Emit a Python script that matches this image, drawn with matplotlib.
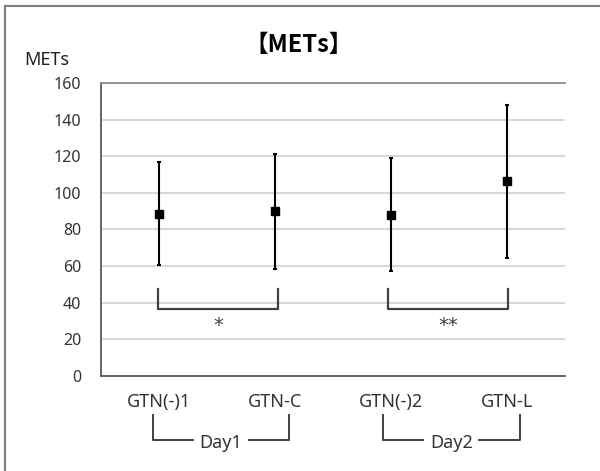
import numpy as np
import matplotlib
matplotlib.use('Agg')
from matplotlib import pyplot as plt
from matplotlib.lines import Line2D
import matplotlib.transforms as mtransforms

plt.rcParams['font.family'] = ['Noto Sans', 'DejaVu Sans']

# data
groups = ['GTN(-)1', 'GTN-C', 'GTN(-)2', 'GTN-L']
means = [88.6, 90.0, 88.1, 106.3]
sds = [28.1, 31.3, 30.8, 41.6]
days = ['Day1', 'Day2']
stars = ['*', '**']
yticks = [0, 20, 40, 60, 80, 100, 120, 140, 160]

txt = '#333333'
x = np.arange(1, len(groups) + 1)

fig = plt.figure(figsize=(6, 4.71), dpi=100)
ax = fig.add_axes([0.168, 0.2017, 0.774, 0.6221])

ax.errorbar(x, means, yerr=sds, fmt='s', color='black', ms=6,
            ecolor='black', elinewidth=1.5, capsize=1.5, capthick=1.5, zorder=3)

ax.set_xlim(0.5, 4.5)
ax.set_ylim(0, 160)
ax.set_yticks(yticks)
ax.set_xticks(x)
ax.set_xticklabels(groups, fontsize=13, color=txt)
ax.tick_params(axis='y', length=0, pad=14, labelsize=11.5, labelcolor=txt)
ax.tick_params(axis='x', length=0, pad=12)
ax.grid(axis='y', color='#d4d4d4', lw=1.3)
ax.set_axisbelow(True)
ax.spines['right'].set_visible(False)
ax.spines['top'].set_color('#8c8c8c')
ax.spines['left'].set_color('#595959')
ax.spines['bottom'].set_color('#595959')
for s in ['top', 'left', 'bottom']:
    ax.spines[s].set_linewidth(1.3)

# significance brackets inside the plot
br = [(0.99, 2.03), (2.97, 4.01)]
for (a, b), st in zip(br, stars):
    ax.plot([a, a, b, b], [47.5, 36.6, 36.6, 47.5], color='#404040', lw=1.6, zorder=3)
    ax.text((a + b) / 2, 27.5, st, ha='center', va='center', fontsize=14,
            color='#404040', family=['DejaVu Sans'])

# day brackets below the axis
trans = mtransforms.blended_transform_factory(ax.transData, ax.transAxes)
dbr = [(0.948, 2.118), (2.93, 4.11)]
for (a, b), d in zip(dbr, days):
    ax.plot([a, a, b, b], [-0.133, -0.218, -0.218, -0.133], color='#404040',
            lw=1.4, transform=trans, clip_on=False)
    ax.text((a + b) / 2, -0.228, d, ha='center', va='center', fontsize=13,
            color=txt, transform=trans,
            bbox=dict(facecolor='white', edgecolor='none', pad=4))

fig.text(0.497, 0.905, '【METs】', ha='center', va='center', fontsize=17,
         fontweight='bold', family=['Noto Sans CJK JP', 'DejaVu Sans'])
fig.text(0.078, 0.872, 'METs', ha='center', va='center', fontsize=13, color='#202020')

# outer frame (left and top only visible)
fig.add_artist(Line2D([5 / 600, 5 / 600], [0, 1 - 6 / 471], color='#7f7f7f', lw=1.5))
fig.add_artist(Line2D([5 / 600, 1], [1 - 6 / 471, 1 - 6 / 471], color='#7f7f7f', lw=1.5))

fig.savefig('out.png', dpi=100)
